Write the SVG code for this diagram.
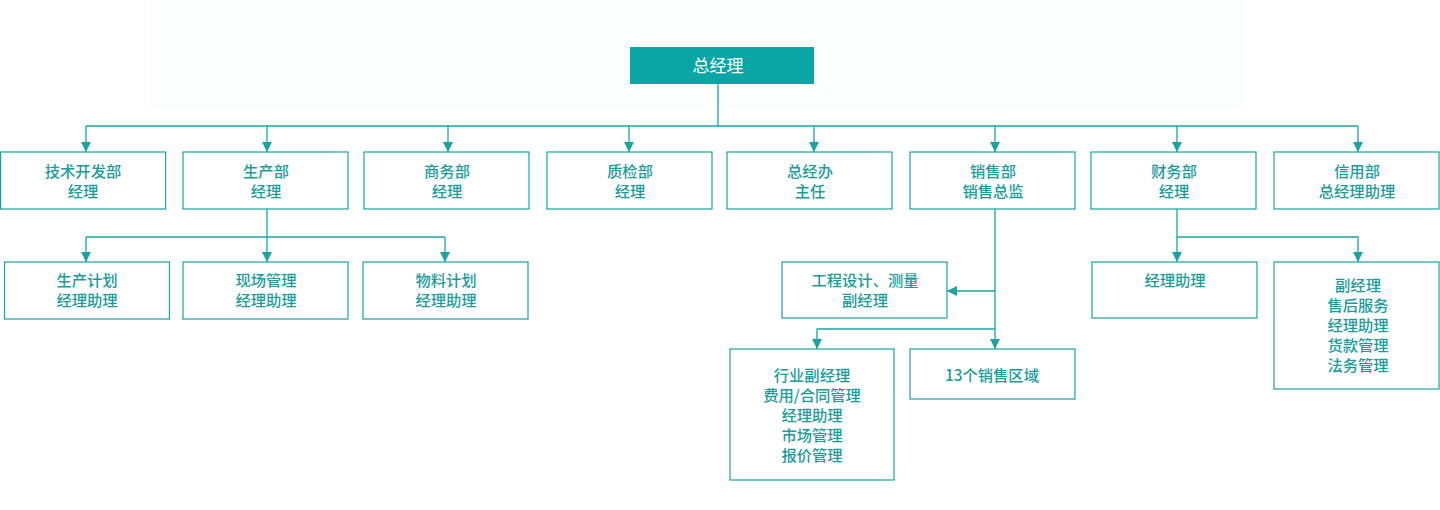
<svg xmlns="http://www.w3.org/2000/svg" width="1440" height="510" viewBox="0 0 1440 510">
<defs>
<style>
.bx{fill:#ffffff;stroke:#1ba3a3;stroke-width:1.2}
.t{font-family:"Noto Sans CJK SC","Noto Sans",sans-serif;font-size:15.3px;font-weight:500;fill:#1a9c9c;text-anchor:middle}
.ln{fill:none;stroke:#1ba3a3;stroke-width:1.3}
</style>
<marker id="ar" viewBox="0 0 10 10" refX="10" refY="5" markerWidth="10" markerHeight="10" markerUnits="userSpaceOnUse" orient="auto">
<path d="M0,0 L10,5 L0,10 Z" fill="#1ba3a3"/>
</marker>
</defs>
<rect x="0" y="0" width="1440" height="510" fill="#ffffff"/>
<rect x="150" y="0" width="1095" height="110" fill="#fcfefe"/>
<g id="connectors">
<path class="ln" d="M718,84 V126"/>
<path class="ln" d="M86,126 H1358"/>
<path class="ln" d="M86,126 V152" marker-end="url(#ar)"/>
<path class="ln" d="M267,126 V152" marker-end="url(#ar)"/>
<path class="ln" d="M448,126 V152" marker-end="url(#ar)"/>
<path class="ln" d="M629,126 V152" marker-end="url(#ar)"/>
<path class="ln" d="M814,126 V152" marker-end="url(#ar)"/>
<path class="ln" d="M995,126 V152" marker-end="url(#ar)"/>
<path class="ln" d="M1177,126 V152" marker-end="url(#ar)"/>
<path class="ln" d="M1358,126 V152" marker-end="url(#ar)"/>
<path class="ln" d="M267,209 V237"/>
<path class="ln" d="M86,237 H445"/>
<path class="ln" d="M86,237 V262" marker-end="url(#ar)"/>
<path class="ln" d="M267,237 V262" marker-end="url(#ar)"/>
<path class="ln" d="M445,237 V262" marker-end="url(#ar)"/>
<path class="ln" d="M995,209 V349" marker-end="url(#ar)"/>
<path class="ln" d="M995,291 H947" marker-end="url(#ar)"/>
<path class="ln" d="M995,329 H817 V349" marker-end="url(#ar)"/>
<path class="ln" d="M1177,209 V262" marker-end="url(#ar)"/>
<path class="ln" d="M1177,237 H1358 V262" marker-end="url(#ar)"/>
</g>
<g id="n-top">
<rect x="630" y="47" width="184" height="37" fill="#0aa6a6"/>
<text class="t" x="718" y="71.5" style="fill:#ffffff;font-size:17px;font-weight:400">总经理</text>
</g>
<g id="n-tech"><rect class="bx" x="0.6" y="152" width="165" height="57"/><text class="t" x="83" y="176.5">技术开发部</text><text class="t" x="83" y="196.5">经理</text></g>
<g id="n-prod"><rect class="bx" x="183" y="152" width="165" height="57"/><text class="t" x="266" y="176.5">生产部</text><text class="t" x="266" y="196.5">经理</text></g>
<g id="n-biz"><rect class="bx" x="364" y="152" width="165" height="57"/><text class="t" x="447" y="176.5">商务部</text><text class="t" x="447" y="196.5">经理</text></g>
<g id="n-qc"><rect class="bx" x="547" y="152" width="165" height="57"/><text class="t" x="630" y="176.5">质检部</text><text class="t" x="630" y="196.5">经理</text></g>
<g id="n-office"><rect class="bx" x="727" y="152" width="165" height="57"/><text class="t" x="810" y="176.5">总经办</text><text class="t" x="810" y="196.5">主任</text></g>
<g id="n-sales"><rect class="bx" x="910" y="152" width="165" height="57"/><text class="t" x="993" y="176.5">销售部</text><text class="t" x="993" y="196.5">销售总监</text></g>
<g id="n-fin"><rect class="bx" x="1091" y="152" width="165" height="57"/><text class="t" x="1174" y="176.5">财务部</text><text class="t" x="1174" y="196.5">经理</text></g>
<g id="n-credit"><rect class="bx" x="1274" y="152" width="165" height="57"/><text class="t" x="1357" y="176.5">信用部</text><text class="t" x="1357" y="196.5">总经理助理</text></g>
<g id="n-plan"><rect class="bx" x="4.5" y="262" width="165" height="57"/><text class="t" x="87" y="285.5">生产计划</text><text class="t" x="87" y="305.5">经理助理</text></g>
<g id="n-site"><rect class="bx" x="183" y="262" width="165" height="57"/><text class="t" x="266" y="285.5">现场管理</text><text class="t" x="266" y="305.5">经理助理</text></g>
<g id="n-mat"><rect class="bx" x="363" y="262" width="165" height="57"/><text class="t" x="446" y="285.5">物料计划</text><text class="t" x="446" y="305.5">经理助理</text></g>
<g id="n-eng"><rect class="bx" x="782" y="262" width="165" height="56"/><text class="t" x="865" y="285.5">工程设计、测量</text><text class="t" x="865" y="305.5">副经理</text></g>
<g id="n-ind"><rect class="bx" x="730" y="349" width="164" height="131"/><text class="t" x="812" y="380.5">行业副经理</text><text class="t" x="812" y="400.5">费用/合同管理</text><text class="t" x="812" y="420.5">经理助理</text><text class="t" x="812" y="440.5">市场管理</text><text class="t" x="812" y="460.5">报价管理</text></g>
<g id="n-region"><rect class="bx" x="910" y="349" width="165" height="50"/><text class="t" x="992" y="380.5">13个销售区域</text></g>
<g id="n-finassist"><rect class="bx" x="1092" y="262" width="165" height="56"/><text class="t" x="1175" y="285.5">经理助理</text></g>
<g id="n-finvice"><rect class="bx" x="1274" y="262" width="165" height="127"/><text class="t" x="1358" y="290.5">副经理</text><text class="t" x="1358" y="310.5">售后服务</text><text class="t" x="1358" y="330.5">经理助理</text><text class="t" x="1358" y="350.5">货款管理</text><text class="t" x="1358" y="370.5">法务管理</text></g>
</svg>
